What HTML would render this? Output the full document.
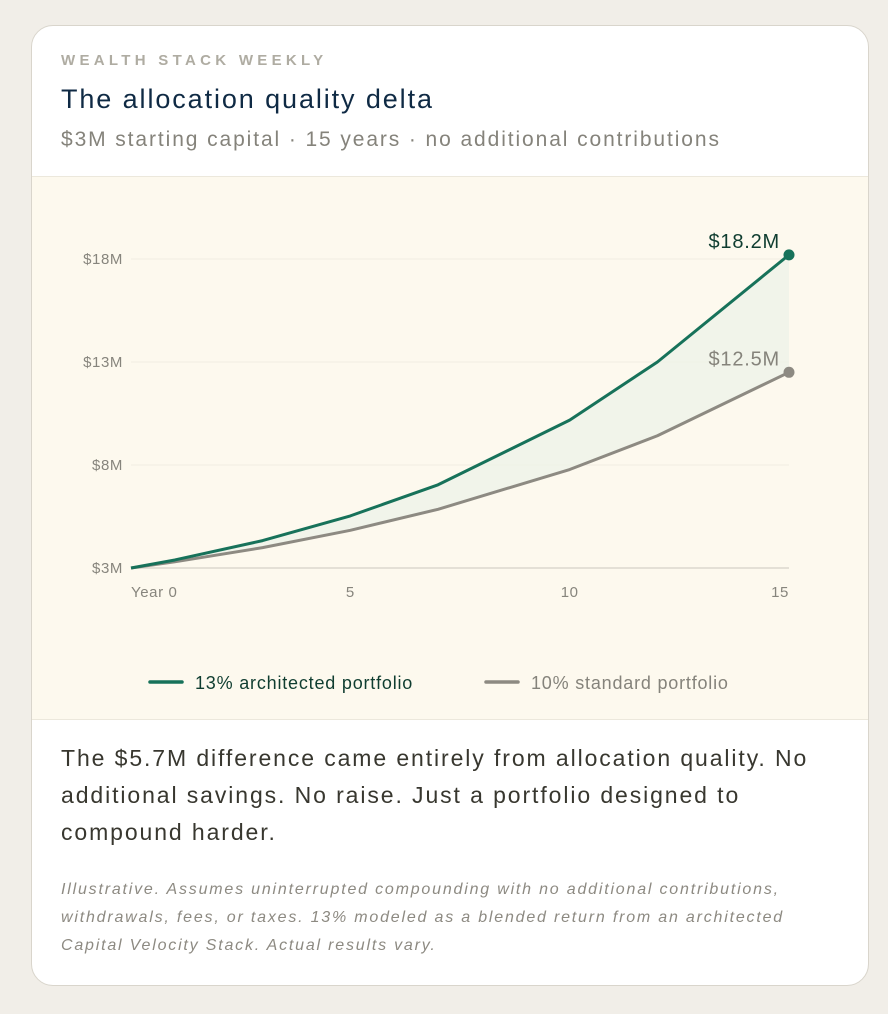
<!DOCTYPE html>
<html><head><meta charset="utf-8"><style>
body{margin:0;width:888px;height:1014px;background:#f1eee8;font-family:"Liberation Sans",sans-serif;overflow:hidden}
.card{position:absolute;left:31px;top:25px;width:836px;height:959px;background:#fff;border:1px solid #d9d5cc;border-radius:22px;overflow:hidden}
.kicker{position:absolute;left:29px;top:26px;font-size:15px;letter-spacing:4.3px;font-weight:bold;color:#afaca2}
.title{position:absolute;left:29px;top:58px;font-size:27px;letter-spacing:1.9px;color:#0f2a44}
.sub{position:absolute;left:29px;top:102px;font-size:21px;letter-spacing:1.9px;color:#85837b;white-space:nowrap}
.chartbox{position:absolute;left:0;top:150px;width:836px;height:542px;background:#fdf9ee;border-top:1px solid #ece8dc;border-bottom:1px solid #ece8dc}
.body{position:absolute;left:29px;top:714px;width:800px;font-size:23px;letter-spacing:1.9px;line-height:37px;color:#38372f;white-space:nowrap}
.note{position:absolute;left:29px;top:850px;width:800px;font-size:16px;letter-spacing:1.8px;line-height:28px;font-style:italic;color:#8d8a82;white-space:nowrap}
</style></head><body>
<div class="card">
<div class="kicker">WEALTH STACK WEEKLY</div>
<div class="title">The allocation quality delta</div>
<div class="sub">$3M starting capital · 15 years · no additional contributions</div>
<div class="chartbox"></div>
<div class="body">The $5.7M difference came entirely from allocation quality. No<br>additional savings. No raise. Just a portfolio designed to<br>compound harder.</div>
<div class="note">Illustrative. Assumes uninterrupted compounding with no additional contributions,<br>withdrawals, fees, or taxes. 13% modeled as a blended return from an architected<br>Capital Velocity Stack. Actual results vary.</div>
</div>
<svg id="chart" width="888" height="1014" style="position:absolute;left:0;top:0"></svg>
<script>
const years=[0,1,3,5,7,10,12,15];
const architected=[3,3.39,4.33,5.53,7.04,10.18,13.0,18.2];
const standard=[3,3.3,3.99,4.83,5.85,7.78,9.42,12.5];
const yTicks=[3,8,13,18];
const yTickLabels=["$3M","$8M","$13M","$18M"];
const xTicks=[0,5,10,15];
const xTickLabels=["Year 0","5","10","15"];
const endLabels=["$18.2M","$12.5M"];
const NS="http://www.w3.org/2000/svg";
const svg=document.getElementById('chart');
const X=v=>131+v*(789-131)/15;
const Y=v=>568-(v-3)*(568-259)/15;
function el(t,a,p){const e=document.createElementNS(NS,t);for(const k in a)e.setAttribute(k,a[k]);(p||svg).appendChild(e);return e;}
yTicks.forEach((t,i)=>{
 const g=el('line',{x1:131,x2:789,y1:Y(t),y2:Y(t),stroke:i==0?'#e4e0d6':'#f1ede1','stroke-width':i==0?2:1});
 
 
 const tx=el('text',{x:123,y:Y(t)+5,'text-anchor':'end','font-size':15,'letter-spacing':0.6,fill:'#87857d','font-family':'Liberation Sans'});
 tx.textContent=yTickLabels[i];
 
 
});
xTicks.forEach((t,i)=>{
 const anc=i==0?'start':(i==xTicks.length-1?'end':'middle');
 const tx=el('text',{x:X(t),y:597,'text-anchor':anc,'font-size':15,'letter-spacing':0.6,fill:'#87857d','font-family':'Liberation Sans'});
 tx.textContent=xTickLabels[i];
 
 
});
const upperPts=years.map((y,i)=>X(y)+','+Y(architected[i]));
const lowerPts=years.map((y,i)=>X(y)+','+Y(standard[i])).reverse();
const area=el('polygon',{points:upperPts.concat(lowerPts).join(' '),fill:'#eef3e8',opacity:0.8});


const series=[[standard,'#8d8a82','standard-line'],[architected,'#17725a','architected-line']];
series.forEach(([d,c,n])=>{
 const p=el('polyline',{points:years.map((y,i)=>X(y)+','+Y(d[i])).join(' '),fill:'none',stroke:c,'stroke-width':3,'stroke-linejoin':'round'});
 
 
 const dt=el('circle',{cx:X(years[years.length-1]),cy:Y(d[d.length-1]),r:5.5,fill:c});
 
 
});
[[architected,'#0f3d30',endLabels[0]],[standard,'#85837b',endLabels[1]]].forEach(([d,c,t])=>{
 const tx=el('text',{x:780,y:Y(d[d.length-1])-7,'text-anchor':'end','font-size':20,'letter-spacing':0.8,fill:c,'font-family':'Liberation Sans'});
 tx.textContent=t;
 
 
});
[[150,'#17725a','#0f3d30','13% architected portfolio'],[486,'#8d8a82','#85837b','10% standard portfolio']].forEach(([x,c,tc,t])=>{
 const l=el('line',{x1:x,x2:x+32,y1:682,y2:682,stroke:c,'stroke-width':3.5,'stroke-linecap':'round'});
 
 
 const tx=el('text',{x:x+45,y:689,'font-size':18,'letter-spacing':0.8,fill:tc,'font-family':'Liberation Sans'});
 tx.textContent=t;
 
 
});
</script>
</body></html>
